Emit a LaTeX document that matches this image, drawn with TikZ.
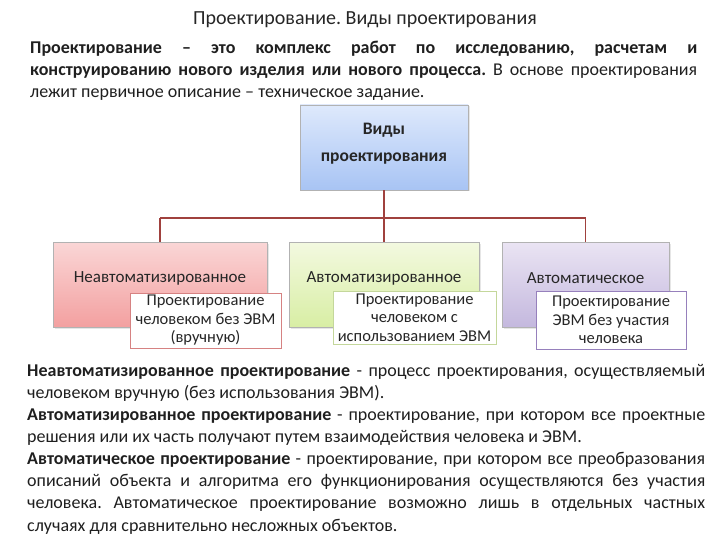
\documentclass[tikz,border=0pt]{standalone}
\usepackage{fontspec}
\setmainfont{Carlito}
\usepackage{xcolor}
\usepackage{tikz}
\usetikzlibrary{positioning, calc, shadows}
\definecolor{linkRed}{RGB}{160, 65, 62}
\definecolor{topBlue}{RGB}{222, 233, 252}
\definecolor{botBlue}{RGB}{168, 196, 244}
\definecolor{topPink}{RGB}{250, 214, 214}
\definecolor{botPink}{RGB}{243, 160, 160}
\definecolor{topGreen}{RGB}{243, 249, 224}
\definecolor{botGreen}{RGB}{216, 238, 164}
\definecolor{topLilac}{RGB}{234, 228, 243}
\definecolor{botLilac}{RGB}{196, 184, 222}
\definecolor{edgePink}{RGB}{214, 130, 130}
\definecolor{edgeGreen}{RGB}{196, 215, 155}
\definecolor{edgeLilac}{RGB}{150, 128, 188}
\setlength{\parindent}{0pt}
\frenchspacing

\begin{document}
\begin{tikzpicture}[
    x=1pt, y=-1pt,
    kindbox/.style={
        rectangle, draw=black!30, minimum height=85pt, inner sep=0pt,
        drop shadow={shadow xshift=1.5pt, shadow yshift=-1.5pt, opacity=0.2}
    },
    kindtext/.style={font=\fontsize{17}{20}\selectfont, text=black!85},
    notebox/.style={
        rectangle, draw, fill=white, align=center, inner sep=0pt,
        font=\fontsize{16.5}{18.5}\selectfont, text=black!85
    },
    link/.style={draw=linkRed, line width=1.6pt},
    bodytext/.style={anchor=north west, inner sep=0pt, align=justify,
        font=\fontsize{18}{22.1}\selectfont, text=black!88}
]
\useasboundingbox (0,0) rectangle (720,540);

\node[font=\fontsize{20}{22}\selectfont, text=black!85] (title) at (365,20) {Проектирование. Виды проектирования};

\node[bodytext, text width=667pt] (intro) at (30,41) {\textbf{Проектирование – это комплекс работ по исследованию, расчетам и}\linebreak \textbf{конструированию нового изделия или нового процесса.} В основе проектирования\linebreak лежит первичное описание – техническое задание.};

% scheme
\node[kindbox, top color=topBlue, bottom color=botBlue, minimum width=168pt, align=center,
      label={[font=\fontsize{17.5}{27}\selectfont\bfseries, text=black!85, align=center, yshift=4pt]center:Виды\\проектирования}] (root) at (384,147.5) {};

\node[kindbox, top color=topPink, bottom color=botPink, minimum width=214pt,
      label={[kindtext, yshift=6.5pt]center:Неавтоматизированное}] (k1) at (160,284.5) {};
\node[kindbox, top color=topGreen, bottom color=botGreen, minimum width=190pt,
      label={[kindtext, yshift=6.5pt]center:Автоматизированное}] (k2) at (384,284.5) {};
\node[kindbox, top color=topLilac, bottom color=botLilac, minimum width=167pt,
      label={[kindtext, yshift=6.5pt]center:Автоматическое}] (k3) at (585.5,284.5) {};

\node[notebox, draw=edgePink, minimum width=151pt, minimum height=55pt] (n1) at (205.5,320.5) {Проектирование\\человеком без ЭВМ\\(вручную)};
\node[notebox, draw=edgeGreen, minimum width=163pt, minimum height=53pt] (n2) at (414.5,317.5) {Проектирование\\человеком с\\использованием ЭВМ};
\node[notebox, draw=edgeLilac, minimum width=150pt, minimum height=58pt] (n3) at (611,320) {Проектирование\\ЭВМ без участия\\человека};

\coordinate (bus) at (384,218);
\draw[link] (root.south) -- (bus);
\draw[link] (k1.north |- bus) -- (k3.north |- bus);
\draw[link] (bus -| k1.north) -- (k1.north);
\draw[link] (bus) -- (k2.north);
\draw[link] (bus -| k3.north) -- (k3.north);

\node[bodytext, text width=678pt] (defs) at (27,364) {\textbf{Неавтоматизированное проектирование} - процесс проектирования, осуществляемый\linebreak человеком вручную (без использования ЭВМ).\par
\textbf{Автоматизированное проектирование} - проектирование, при котором все проектные\linebreak решения или их часть получают путем взаимодействия человека и ЭВМ.\par
\textbf{Автоматическое проектирование} - проектирование, при котором все преобразования\linebreak описаний объекта и алгоритма его функционирования осуществляются без участия\linebreak человека. Автоматическое проектирование возможно лишь в отдельных частных\linebreak случаях для сравнительно несложных объектов.};
\end{tikzpicture}
\end{document}
